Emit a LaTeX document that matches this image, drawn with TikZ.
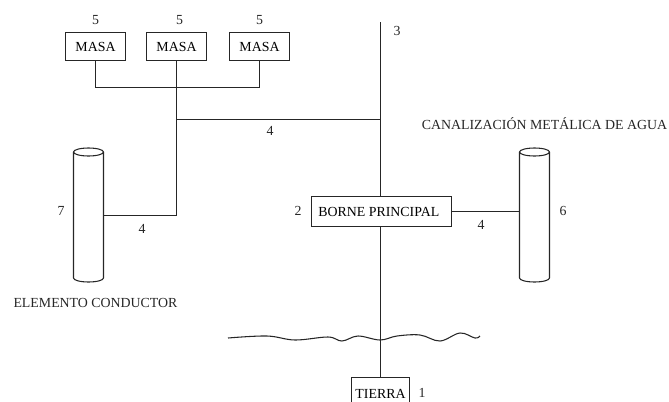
\documentclass[tikz,border=0pt]{standalone}
\usepackage{fontspec}
\setmainfont{Liberation Serif}
\usepackage{tikz}
\usetikzlibrary{positioning}

\begin{document}
\begin{tikzpicture}[x=0.75pt, y=-0.75pt,
  box/.style={rectangle, draw=black!85, line width=0.8pt, inner sep=0pt, outer sep=0pt, font=\fontsize{10.4}{12}\selectfont},
  pipe/.style={rectangle, minimum width=22.5pt, minimum height=94.5pt, inner sep=0pt, outer sep=0pt},
  label/.style={inner sep=0pt, text=black!85, font=\fontsize{10.4}{12}\selectfont},
  line/.style={draw=black!85, line width=0.8pt}]
  \clip (0,0) rectangle (669,401);

  \node [box, minimum width=45pt, minimum height=21pt] (masaA) at (95.5,46.5) {MASA};
  \node [box, minimum width=45pt, minimum height=21pt] (masaB) at (176.5,46.5) {MASA};
  \node [box, minimum width=45pt, minimum height=21pt] (masaC) at (259.5,46.5) {MASA};
  \node [box, minimum width=105pt, minimum height=22.5pt] (borne) at (381.5,211.5) {BORNE PRINCIPAL\kern4pt};
  \node [box, minimum width=43.5pt, minimum height=24pt] (tierra) at (380.5,393.5) {TIERRA};
  \node [pipe] (pipeE) at (88.5,215) {};
  \node [pipe] (pipeA) at (534.5,215) {};

  \foreach \p in {pipeE,pipeA} {
    \path [line] (\p.north west) -- (\p.south west) arc [start angle=180, end angle=360, x radius=11.25pt, y radius=3pt] -- (\p.north east);
    \path [line] (\p.north) ellipse [x radius=11.25pt, y radius=3pt];
  }

  \coordinate (busL) at (95.5,87.5);
  \coordinate (busM) at (176.5,87.5);
  \coordinate (busR) at (259.5,87.5);
  \coordinate (tap) at (176.5,119.5);
  \coordinate (tapR) at (380.5,119.5);
  \coordinate (elbow) at (176.5,215.5);
  \coordinate (top) at (380.5,22);

  \path [line] (masaA) -- (busL) -- (busR) -- (masaC);
  \path [line] (masaB) -- (elbow) -- (pipeE.east |- elbow);
  \path [line] (tap) -- (tapR);
  \path [line] (top) -- (top |- borne.north);
  \path [line] (top |- borne.south) -- (tierra);
  \path [line] (borne.east) -- (pipeA.west |- borne.east);
  \path [line] plot [smooth, tension=0.6] coordinates {(228,338) (267,336) (295,340) (328,337) (342,341) (358,336) (380,340) (397,336) (420,335) (440,341) (460,333) (475,338) (480,336)};

  \node [label] (n5a) at (95.5,20) {5};
  \node [label] (n5b) at (179.5,20) {5};
  \node [label] (n5c) at (259.5,20) {5};
  \node [label] (n3) at (397,31) {3};
  \node [label] (n4a) at (270,131) {4};
  \node [label] (n4b) at (142,229) {4};
  \node [label] (n4c) at (481,225) {4};
  \node [label] (n2) at (298,211) {2};
  \node [label] (n6) at (563,211) {6};
  \node [label] (n7) at (61,211) {7};
  \node [label] (n1) at (422,393) {1};
  \node [label] (agua) at (544.5,124) {CANALIZACIÓN METÁLICA DE AGUA};
  \node [label] (cond) at (95.5,303) {ELEMENTO CONDUCTOR};
\end{tikzpicture}
\end{document}
